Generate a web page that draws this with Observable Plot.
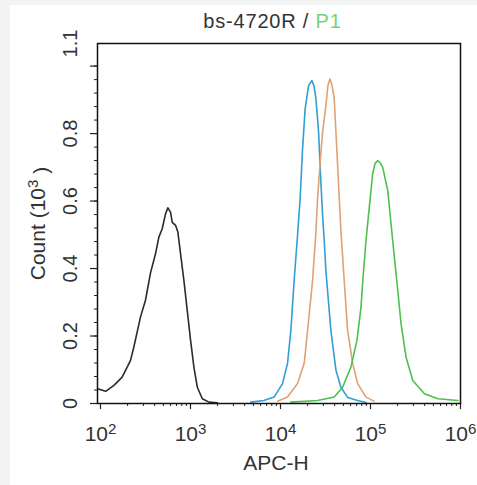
<!DOCTYPE html>
<html><head><meta charset="utf-8">
<script src="https://cdn.jsdelivr.net/npm/d3@7"></script>
<script src="https://cdn.jsdelivr.net/npm/@observablehq/plot@0.6"></script>
<style>
body{margin:0;background:#f3f4f4;width:477px;height:485px;overflow:hidden;font-family:"Liberation Sans",Arial,sans-serif}
#wrap{position:absolute;left:10px;top:5px;width:467px;height:480px;background:#fff}
#title{position:absolute;left:81px;width:363px;top:6px;text-align:center;font-size:20px;line-height:20px;color:#333;letter-spacing:0.8px}
#title span{color:#72d672}
</style></head>
<body>
<div id="wrap"><div id="title">bs-4720R / <span>P1</span></div><div id="chart"></div></div>
<script>
// APC-H intensity (x) and Count in thousands (y) for each histogram
const blackX = [93, 114, 140, 174, 215, 234, 278, 316, 360, 408, 445, 485, 528, 560, 600, 627, 682, 724, 776, 845, 920, 1002, 1091, 1191, 1352, 1603, 1986];
const blackY = [0.044, 0.036, 0.053, 0.078, 0.127, 0.166, 0.256, 0.306, 0.388, 0.443, 0.493, 0.518, 0.562, 0.580, 0.567, 0.537, 0.528, 0.508, 0.443, 0.364, 0.276, 0.187, 0.108, 0.048, 0.014, 0.004, 0.002];

const blueX = [4670, 6520, 8490, 10520, 11970, 13030, 14170, 15460, 16520, 17580, 18790, 20510, 22320, 23500, 24730, 26500, 28100, 29370, 30610, 31940, 34040, 36310, 41300, 46900, 55700, 71970, 89100];
const blueY = [0.004, 0.009, 0.019, 0.059, 0.119, 0.216, 0.364, 0.498, 0.607, 0.754, 0.874, 0.942, 0.957, 0.942, 0.904, 0.804, 0.656, 0.557, 0.483, 0.394, 0.305, 0.216, 0.099, 0.048, 0.018, 0.009, 0.003];

const orangeX = [9270, 11970, 15460, 18330, 19990, 22710, 24730, 25820, 27400, 29370, 31940, 33620, 35380, 37240, 39520, 41300, 43150, 44980, 46900, 51050, 55700, 63380, 71970, 89100, 109400];
const orangeY = [0.007, 0.019, 0.059, 0.119, 0.216, 0.364, 0.507, 0.607, 0.705, 0.804, 0.883, 0.942, 0.962, 0.945, 0.904, 0.804, 0.705, 0.607, 0.513, 0.364, 0.216, 0.119, 0.059, 0.019, 0.007];

const greenX = [13030, 25820, 39520, 48980, 60640, 70750, 78380, 83150, 89100, 97000, 105700, 112200, 120300, 127600, 136700, 155500, 169200, 184200, 200900, 218600, 248500, 295000, 397400, 559800, 935000];
const greenY = [0.004, 0.009, 0.019, 0.048, 0.108, 0.187, 0.285, 0.384, 0.483, 0.582, 0.681, 0.711, 0.720, 0.714, 0.700, 0.631, 0.532, 0.433, 0.335, 0.236, 0.137, 0.068, 0.029, 0.014, 0.009];

// tick labels
const xTicks = [1e2, 1e3, 1e4, 1e5, 1e6];
const xTickExp = ["2", "3", "4", "5", "6"];
const yTickVals = [0, 0.2, 0.4, 0.6, 0.8, 1.067];
const yTickText = ["0", "0.2", "0.4", "0.6", "0.8", "1.1"];
const yMajor = [0, 0.2, 0.4, 0.6, 0.8, 1.0];
const xLabel = "APC-H";
const yLabel = "Count (10";

const xMinor = [];
for (let d = 2; d <= 5; d++) for (let k = 2; k <= 9; k++) xMinor.push(k * Math.pow(10, d));
const yMinor = d3.range(0, 26).map(i => i * 0.04);

const mk = (X, Y) => X.map((x, i) => ({x, y: Y[i]}));
const series = [
  {data: mk(blackX, blackY), color: "#2b2b2b"},
  {data: mk(blueX, blueY), color: "#2f9fd4"},
  {data: mk(orangeX, orangeY), color: "#dfa276"},
  {data: mk(greenX, greenY), color: "#4cc14c"}
];

const fam = "'Liberation Sans', Arial, sans-serif";
const chart = Plot.plot({
  width: 467, height: 480,
  marginLeft: 87, marginRight: 17, marginTop: 38, marginBottom: 82,
  x: {type: "log", domain: [92.6, 1e6], axis: null},
  y: {domain: [0, 1.067], axis: null},
  style: {background: "transparent", fontFamily: fam, color: "#222"},
  marks: [
    ...series.map(s => Plot.line(s.data, {x: "x", y: "y", stroke: s.color, strokeWidth: 1.6})),
    Plot.axisX({ticks: xTicks, tickSize: 6, tickFormat: () => "", label: null, strokeWidth: 1.2}),
    Plot.axisX({ticks: xMinor, tickSize: 3, tickFormat: () => "", label: null, strokeWidth: 1}),
    Plot.axisY({ticks: yMajor, tickSize: 7, tickFormat: () => "", label: null, strokeWidth: 1.2}),
    Plot.axisY({ticks: yMinor, tickSize: 3, tickFormat: () => "", label: null, strokeWidth: 1}),
    Plot.frame({stroke: "#111", strokeWidth: 1.5}),
    Plot.text(xTicks, {x: d => d, text: (d, i) => xTickExp[i], frameAnchor: "bottom", dy: 31, fontSize: 21, fill: "#333", textAnchor: "middle", lineAnchor: "middle"}),
    Plot.text(yTickVals, {y: d => d, text: (d, i) => yTickText[i], frameAnchor: "left", dx: -27, rotate: -90, fontSize: 20, fill: "#333", textAnchor: "middle", lineAnchor: "middle"}),
    Plot.text([xLabel], {text: d => d, frameAnchor: "bottom", dx: -3, dy: 66, fontSize: 21, fill: "#333"}),
    Plot.text([yLabel], {text: d => d, frameAnchor: "left", dx: -59, dy: 0, rotate: -90, fontSize: 21, fill: "#333", textAnchor: "middle", lineAnchor: "middle"})
  ]
});
document.getElementById("chart").appendChild(chart);

const svg = d3.select(chart);
svg.selectAll("text").each(function() {
  const t = d3.select(this);
  const s = t.text();
  if (xTickExp.includes(s)) {
    t.text("10");
    t.append("tspan").attr("dy", "-0.5em").attr("font-size", "0.72em").text(s);
  } else if (s === yLabel) {
    t.append("tspan").attr("dy", "-0.5em").attr("font-size", "0.72em").text("3");
    t.append("tspan").attr("dy", "0.5em").text(" )");
  }
});
</script>
</body></html>
